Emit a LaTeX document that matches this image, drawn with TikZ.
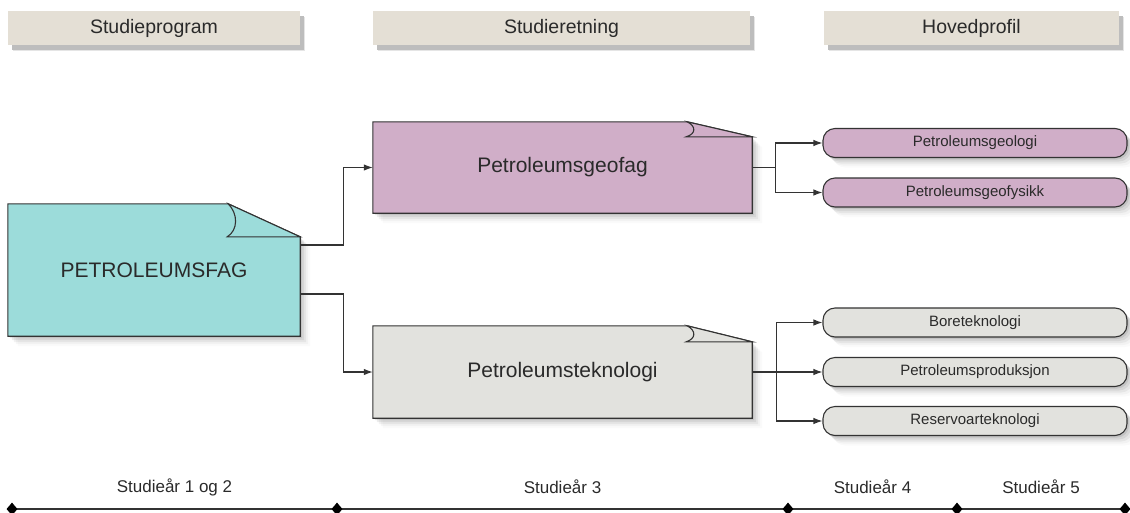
\documentclass[tikz,border=0pt]{standalone}
\usepackage{fontspec}
\setmainfont{Liberation Sans}
\usetikzlibrary{shadows,arrows.meta,shapes.geometric,calc}
\definecolor{cteal}{HTML}{9CDCDA}
\definecolor{cpurple}{HTML}{D0AEC8}
\definecolor{cgray}{HTML}{E2E2DE}
\definecolor{chdr}{HTML}{E4DFD5}
\definecolor{chdrsh}{HTML}{BDBDBD}
\definecolor{cline}{HTML}{333333}
\definecolor{ctxt}{HTML}{2A2A2A}
\newcommand\foldbox[5]{%
  \path (#1.north east) ++(-#3,0) coordinate (#1-a) ++(0,#4) coordinate (#1-t);
  \path (#1.north east) ++(0,#4) coordinate (#1-c);
  \filldraw[boxline, fill=#2, softshadow] (#1.south west) -- (#1.north west) -- (#1-a) -- (#1-c) -- (#1.south east) -- cycle;
  \filldraw[boxline, fill=#2] (#1-a) .. controls ($(#1-a)+(#5,0.3*#4)$) and ($(#1-a)+(#5,0.8*#4)$) .. ($(#1-t)+(-1,0)$) -- (#1-c) -- cycle;
}
\begin{document}
\begin{tikzpicture}[x=1pt,y=-1pt,
  boxline/.style={draw=cline, line width=1.1pt, line join=miter},
  softshadow/.style={
    drop shadow={shadow xshift=2pt,shadow yshift=-2pt,opacity=.09,fill=black},
    drop shadow={shadow xshift=4pt,shadow yshift=-4pt,opacity=.07,fill=black},
    drop shadow={shadow xshift=6pt,shadow yshift=-6pt,opacity=.05,fill=black},
    drop shadow={shadow xshift=8pt,shadow yshift=-8pt,opacity=.03,fill=black},
    drop shadow={shadow xshift=10pt,shadow yshift=-10pt,opacity=.02,fill=black}},
  hdrshadow/.style={
    drop shadow={shadow xshift=4pt,shadow yshift=-5pt,opacity=1,fill=chdrsh},
    drop shadow={shadow xshift=5pt,shadow yshift=-6pt,opacity=.4,fill=chdrsh}},
  hdr/.style={fill=chdr, draw=none, inner sep=0pt, minimum height=34pt, text=ctxt,
    font=\fontsize{19.5}{22}\selectfont, hdrshadow},
  area/.style={draw=none, inner sep=0pt},
  bigtext/.style={text=ctxt, font=\fontsize{21}{24}\selectfont},
  pill/.style={boxline, rounded corners=12pt, minimum width=304pt, minimum height=29pt,
    inner sep=0pt, text=ctxt, font=\fontsize{15}{17}\selectfont, softshadow},
  conn/.style={draw=cline, line width=1.1pt, -{Latex[length=9pt,width=6.5pt]}},
  plain/.style={draw=cline, line width=1.1pt},
  tick/.style={shape=diamond, fill=black, inner sep=0pt, minimum width=11pt, minimum height=13pt},
  yr/.style={text=ctxt, font=\fontsize{17}{20}\selectfont}
]
\useasboundingbox (0,0) rectangle (1130,512);

% headers
\node[hdr, minimum width=292pt] (h1) at (154,28) {Studieprogram};
\node[hdr, minimum width=377pt] (h2) at (561.5,28) {Studieretning};
\node[hdr, minimum width=295pt] (h3) at (971.5,28) {Hovedprofil};

% main boxes (areas)
\node[area, minimum width=292pt, minimum height=132pt] (pf) at (154,270) {};
\node[area, minimum width=379pt, minimum height=91pt] (pg) at (562.5,167.5) {};
\node[area, minimum width=379pt, minimum height=92pt] (pt) at (562.5,372) {};

\foldbox{pf}{cteal}{72}{33}{10}
\node[bigtext] at (pf) {PETROLEUMSFAG};
\foldbox{pg}{cpurple}{65}{15}{9}
\node[bigtext] at (pg) {Petroleumsgeofag};
\foldbox{pt}{cgray}{65}{16}{9}
\node[bigtext] at (pt) {Petroleumsteknologi};

% pills
\node[pill, fill=cpurple] (p1) at (975,143) {Petroleumsgeologi};
\node[pill, fill=cpurple] (p2) at (975,192.5) {Petroleumsgeofysikk};
\node[pill, fill=cgray] (p3) at (975,322.5) {Boreteknologi};
\node[pill, fill=cgray] (p4) at (975,372) {Petroleumsproduksjon};
\node[pill, fill=cgray] (p5) at (975,421) {Reservoarteknologi};

% connectors
\draw[conn] ([yshift=25pt]pf.east) -- ++(43,0) |- (pg.west);
\draw[conn] ([yshift=-24pt]pf.east) -- ++(43,0) |- (pt.west);
\draw[plain] (pg.east) -- ++(23,0) coordinate (bg);
\draw[conn] (bg) |- (p1.west);
\draw[conn] (bg) |- (p2.west);
\draw[plain] (pt.east) -- ++(24,0) coordinate (bt);
\draw[conn] (bt) |- (p3.west);
\draw[conn] (bt) -- (p4.west);
\draw[conn] (bt) |- (p5.west);

% time axis
\coordinate (d0) at (12,509);
\coordinate (d1) at (337,509);
\coordinate (d2) at (788,509);
\coordinate (d3) at (957,509);
\coordinate (d4) at (1125,509);
\draw[draw=cline, line width=1.3pt] (d0) -- (d4);
\foreach \d in {d0,d1,d2,d3,d4} \node[tick] at (\d) {};
\node[yr] at ($(d0)!0.5!(d1)+(0,-22)$) {Studieår 1 og 2};
\node[yr] at ($(d1)!0.5!(d2)+(0,-22)$) {Studieår 3};
\node[yr] at ($(d2)!0.5!(d3)+(0,-22)$) {Studieår 4};
\node[yr] at ($(d3)!0.5!(d4)+(0,-22)$) {Studieår 5};
\end{tikzpicture}
\end{document}
